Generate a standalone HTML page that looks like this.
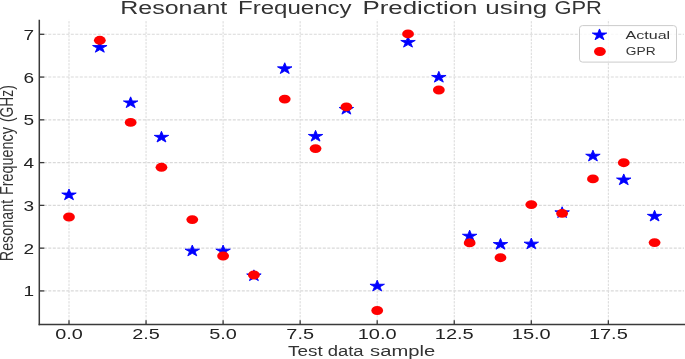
<!DOCTYPE html>
<html><head><meta charset="utf-8"><title>Resonant Frequency Prediction using GPR</title>
<style>
html,body{margin:0;padding:0;background:#fff;}
svg{display:block;will-change:transform;}
text{font-family:"Liberation Sans",sans-serif;fill:#333;}
.gv{stroke:#d9d9d9;stroke-width:1;stroke-dasharray:2.3 1.2;}
.gh{stroke:#d9d9d9;stroke-width:1.1;stroke-dasharray:3.0 1.5;}
.sp{stroke:#3a3a3a;stroke-width:1.5;}
.tk{stroke:#3a3a3a;stroke-width:1.3;}
.xtl{font-size:14px;fill:#222;}
.ytl{font-size:14px;fill:#222;}
.xl{font-size:14px;}
.yl{font-size:14px;}
.ti{font-size:18px;}
.lg{font-size:11.8px;}
</style></head>
<body>
<svg width="685" height="359" viewBox="0 0 685 359">
<rect width="685" height="359" fill="#fff"/>
<line x1="69.00" y1="324.45" x2="69.00" y2="19.80" class="gv"/>
<line x1="146.05" y1="324.45" x2="146.05" y2="19.80" class="gv"/>
<line x1="223.10" y1="324.45" x2="223.10" y2="19.80" class="gv"/>
<line x1="300.15" y1="324.45" x2="300.15" y2="19.80" class="gv"/>
<line x1="377.20" y1="324.45" x2="377.20" y2="19.80" class="gv"/>
<line x1="454.25" y1="324.45" x2="454.25" y2="19.80" class="gv"/>
<line x1="531.30" y1="324.45" x2="531.30" y2="19.80" class="gv"/>
<line x1="608.35" y1="324.45" x2="608.35" y2="19.80" class="gv"/>
<line x1="39.30" y1="290.92" x2="684.00" y2="290.92" class="gh"/>
<line x1="39.30" y1="248.15" x2="684.00" y2="248.15" class="gh"/>
<line x1="39.30" y1="205.38" x2="684.00" y2="205.38" class="gh"/>
<line x1="39.30" y1="162.61" x2="684.00" y2="162.61" class="gh"/>
<line x1="39.30" y1="119.84" x2="684.00" y2="119.84" class="gh"/>
<line x1="39.30" y1="77.07" x2="684.00" y2="77.07" class="gh"/>
<line x1="39.30" y1="34.30" x2="684.00" y2="34.30" class="gh"/>
<path d="M69.00,188.95 L70.71,193.06 L76.23,193.06 L71.76,195.60 L73.47,199.71 L69.00,197.17 L64.53,199.71 L66.24,195.60 L61.77,193.06 L67.29,193.06 Z" fill="#0000ff" stroke="#0000ff" stroke-width="0.9" stroke-linejoin="bevel"/>
<path d="M99.82,41.45 L101.53,45.56 L107.05,45.56 L102.58,48.10 L104.29,52.21 L99.82,49.67 L95.35,52.21 L97.06,48.10 L92.59,45.56 L98.11,45.56 Z" fill="#0000ff" stroke="#0000ff" stroke-width="0.9" stroke-linejoin="bevel"/>
<path d="M130.64,96.85 L132.35,100.96 L137.87,100.96 L133.40,103.50 L135.11,107.61 L130.64,105.07 L126.17,107.61 L127.88,103.50 L123.41,100.96 L128.93,100.96 Z" fill="#0000ff" stroke="#0000ff" stroke-width="0.9" stroke-linejoin="bevel"/>
<path d="M161.46,131.25 L163.17,135.36 L168.69,135.36 L164.22,137.90 L165.93,142.01 L161.46,139.47 L156.99,142.01 L158.70,137.90 L154.23,135.36 L159.75,135.36 Z" fill="#0000ff" stroke="#0000ff" stroke-width="0.9" stroke-linejoin="bevel"/>
<path d="M192.28,245.05 L193.99,249.16 L199.51,249.16 L195.04,251.70 L196.75,255.81 L192.28,253.27 L187.81,255.81 L189.52,251.70 L185.05,249.16 L190.57,249.16 Z" fill="#0000ff" stroke="#0000ff" stroke-width="0.9" stroke-linejoin="bevel"/>
<path d="M223.10,245.05 L224.81,249.16 L230.33,249.16 L225.86,251.70 L227.57,255.81 L223.10,253.27 L218.63,255.81 L220.34,251.70 L215.87,249.16 L221.39,249.16 Z" fill="#0000ff" stroke="#0000ff" stroke-width="0.9" stroke-linejoin="bevel"/>
<path d="M253.92,269.85 L255.63,273.96 L261.15,273.96 L256.68,276.50 L258.39,280.61 L253.92,278.07 L249.45,280.61 L251.16,276.50 L246.69,273.96 L252.21,273.96 Z" fill="#0000ff" stroke="#0000ff" stroke-width="0.9" stroke-linejoin="bevel"/>
<path d="M284.74,62.75 L286.45,66.86 L291.97,66.86 L287.50,69.40 L289.21,73.51 L284.74,70.97 L280.27,73.51 L281.98,69.40 L277.51,66.86 L283.03,66.86 Z" fill="#0000ff" stroke="#0000ff" stroke-width="0.9" stroke-linejoin="bevel"/>
<path d="M315.56,130.35 L317.27,134.46 L322.79,134.46 L318.32,137.00 L320.03,141.11 L315.56,138.57 L311.09,141.11 L312.80,137.00 L308.33,134.46 L313.85,134.46 Z" fill="#0000ff" stroke="#0000ff" stroke-width="0.9" stroke-linejoin="bevel"/>
<path d="M346.38,103.35 L348.09,107.46 L353.61,107.46 L349.14,110.00 L350.85,114.11 L346.38,111.57 L341.91,114.11 L343.62,110.00 L339.15,107.46 L344.67,107.46 Z" fill="#0000ff" stroke="#0000ff" stroke-width="0.9" stroke-linejoin="bevel"/>
<path d="M377.20,280.15 L378.91,284.26 L384.43,284.26 L379.96,286.80 L381.67,290.91 L377.20,288.37 L372.73,290.91 L374.44,286.80 L369.97,284.26 L375.49,284.26 Z" fill="#0000ff" stroke="#0000ff" stroke-width="0.9" stroke-linejoin="bevel"/>
<path d="M408.02,36.35 L409.73,40.46 L415.25,40.46 L410.78,43.00 L412.49,47.11 L408.02,44.57 L403.55,47.11 L405.26,43.00 L400.79,40.46 L406.31,40.46 Z" fill="#0000ff" stroke="#0000ff" stroke-width="0.9" stroke-linejoin="bevel"/>
<path d="M438.84,71.35 L440.55,75.46 L446.07,75.46 L441.60,78.00 L443.31,82.11 L438.84,79.57 L434.37,82.11 L436.08,78.00 L431.61,75.46 L437.13,75.46 Z" fill="#0000ff" stroke="#0000ff" stroke-width="0.9" stroke-linejoin="bevel"/>
<path d="M469.66,230.15 L471.37,234.26 L476.89,234.26 L472.42,236.80 L474.13,240.91 L469.66,238.37 L465.19,240.91 L466.90,236.80 L462.43,234.26 L467.95,234.26 Z" fill="#0000ff" stroke="#0000ff" stroke-width="0.9" stroke-linejoin="bevel"/>
<path d="M500.48,238.45 L502.19,242.56 L507.71,242.56 L503.24,245.10 L504.95,249.21 L500.48,246.67 L496.01,249.21 L497.72,245.10 L493.25,242.56 L498.77,242.56 Z" fill="#0000ff" stroke="#0000ff" stroke-width="0.9" stroke-linejoin="bevel"/>
<path d="M531.30,238.05 L533.01,242.16 L538.53,242.16 L534.06,244.70 L535.77,248.81 L531.30,246.27 L526.83,248.81 L528.54,244.70 L524.07,242.16 L529.59,242.16 Z" fill="#0000ff" stroke="#0000ff" stroke-width="0.9" stroke-linejoin="bevel"/>
<path d="M562.12,206.75 L563.83,210.86 L569.35,210.86 L564.88,213.40 L566.59,217.51 L562.12,214.97 L557.65,217.51 L559.36,213.40 L554.89,210.86 L560.41,210.86 Z" fill="#0000ff" stroke="#0000ff" stroke-width="0.9" stroke-linejoin="bevel"/>
<path d="M592.94,150.15 L594.65,154.26 L600.17,154.26 L595.70,156.80 L597.41,160.91 L592.94,158.37 L588.47,160.91 L590.18,156.80 L585.71,154.26 L591.23,154.26 Z" fill="#0000ff" stroke="#0000ff" stroke-width="0.9" stroke-linejoin="bevel"/>
<path d="M623.76,173.95 L625.47,178.06 L630.99,178.06 L626.52,180.60 L628.23,184.71 L623.76,182.17 L619.29,184.71 L621.00,180.60 L616.53,178.06 L622.05,178.06 Z" fill="#0000ff" stroke="#0000ff" stroke-width="0.9" stroke-linejoin="bevel"/>
<path d="M654.58,210.25 L656.29,214.36 L661.81,214.36 L657.34,216.90 L659.05,221.01 L654.58,218.47 L650.11,221.01 L651.82,216.90 L647.35,214.36 L652.87,214.36 Z" fill="#0000ff" stroke="#0000ff" stroke-width="0.9" stroke-linejoin="bevel"/>
<ellipse cx="69.00" cy="217.00" rx="5.9" ry="4.45" fill="#ff0000"/>
<ellipse cx="99.82" cy="40.30" rx="5.9" ry="4.45" fill="#ff0000"/>
<ellipse cx="130.64" cy="122.40" rx="5.9" ry="4.45" fill="#ff0000"/>
<ellipse cx="161.46" cy="167.30" rx="5.9" ry="4.45" fill="#ff0000"/>
<ellipse cx="192.28" cy="219.60" rx="5.9" ry="4.45" fill="#ff0000"/>
<ellipse cx="223.10" cy="256.00" rx="5.9" ry="4.45" fill="#ff0000"/>
<ellipse cx="253.92" cy="275.00" rx="5.9" ry="4.45" fill="#ff0000"/>
<ellipse cx="284.74" cy="99.10" rx="5.9" ry="4.45" fill="#ff0000"/>
<ellipse cx="315.56" cy="148.60" rx="5.9" ry="4.45" fill="#ff0000"/>
<ellipse cx="346.38" cy="106.90" rx="5.9" ry="4.45" fill="#ff0000"/>
<ellipse cx="377.20" cy="310.50" rx="5.9" ry="4.45" fill="#ff0000"/>
<ellipse cx="408.02" cy="33.90" rx="5.9" ry="4.45" fill="#ff0000"/>
<ellipse cx="438.84" cy="90.00" rx="5.9" ry="4.45" fill="#ff0000"/>
<ellipse cx="469.66" cy="242.90" rx="5.9" ry="4.45" fill="#ff0000"/>
<ellipse cx="500.48" cy="257.70" rx="5.9" ry="4.45" fill="#ff0000"/>
<ellipse cx="531.30" cy="204.60" rx="5.9" ry="4.45" fill="#ff0000"/>
<ellipse cx="562.12" cy="213.40" rx="5.9" ry="4.45" fill="#ff0000"/>
<ellipse cx="592.94" cy="178.90" rx="5.9" ry="4.45" fill="#ff0000"/>
<ellipse cx="623.76" cy="162.70" rx="5.9" ry="4.45" fill="#ff0000"/>
<ellipse cx="654.58" cy="242.60" rx="5.9" ry="4.45" fill="#ff0000"/>
<line x1="39.30" y1="19.80" x2="39.30" y2="325.15" class="sp"/>
<line x1="38.60" y1="324.45" x2="685" y2="324.45" class="sp"/>
<line x1="69.00" y1="324.45" x2="69.00" y2="320.15" class="tk"/>
<line x1="146.05" y1="324.45" x2="146.05" y2="320.15" class="tk"/>
<line x1="223.10" y1="324.45" x2="223.10" y2="320.15" class="tk"/>
<line x1="300.15" y1="324.45" x2="300.15" y2="320.15" class="tk"/>
<line x1="377.20" y1="324.45" x2="377.20" y2="320.15" class="tk"/>
<line x1="454.25" y1="324.45" x2="454.25" y2="320.15" class="tk"/>
<line x1="531.30" y1="324.45" x2="531.30" y2="320.15" class="tk"/>
<line x1="608.35" y1="324.45" x2="608.35" y2="320.15" class="tk"/>
<line x1="39.30" y1="290.92" x2="44.30" y2="290.92" class="tk"/>
<line x1="39.30" y1="248.15" x2="44.30" y2="248.15" class="tk"/>
<line x1="39.30" y1="205.38" x2="44.30" y2="205.38" class="tk"/>
<line x1="39.30" y1="162.61" x2="44.30" y2="162.61" class="tk"/>
<line x1="39.30" y1="119.84" x2="44.30" y2="119.84" class="tk"/>
<line x1="39.30" y1="77.07" x2="44.30" y2="77.07" class="tk"/>
<line x1="39.30" y1="34.30" x2="44.30" y2="34.30" class="tk"/>
<text x="69.00" y="338.6" class="xtl" text-anchor="middle" textLength="27.6" lengthAdjust="spacingAndGlyphs">0.0</text>
<text x="146.05" y="338.6" class="xtl" text-anchor="middle" textLength="27.6" lengthAdjust="spacingAndGlyphs">2.5</text>
<text x="223.10" y="338.6" class="xtl" text-anchor="middle" textLength="27.6" lengthAdjust="spacingAndGlyphs">5.0</text>
<text x="300.15" y="338.6" class="xtl" text-anchor="middle" textLength="27.6" lengthAdjust="spacingAndGlyphs">7.5</text>
<text x="377.20" y="338.6" class="xtl" text-anchor="middle" textLength="38.9" lengthAdjust="spacingAndGlyphs">10.0</text>
<text x="454.25" y="338.6" class="xtl" text-anchor="middle" textLength="38.9" lengthAdjust="spacingAndGlyphs">12.5</text>
<text x="531.30" y="338.6" class="xtl" text-anchor="middle" textLength="38.9" lengthAdjust="spacingAndGlyphs">15.0</text>
<text x="608.35" y="338.6" class="xtl" text-anchor="middle" textLength="38.9" lengthAdjust="spacingAndGlyphs">17.5</text>
<text x="34.2" y="296.42" class="ytl" text-anchor="end" textLength="10.6" lengthAdjust="spacingAndGlyphs">1</text>
<text x="34.2" y="253.65" class="ytl" text-anchor="end" textLength="10.6" lengthAdjust="spacingAndGlyphs">2</text>
<text x="34.2" y="210.88" class="ytl" text-anchor="end" textLength="10.6" lengthAdjust="spacingAndGlyphs">3</text>
<text x="34.2" y="168.11" class="ytl" text-anchor="end" textLength="10.6" lengthAdjust="spacingAndGlyphs">4</text>
<text x="34.2" y="125.34" class="ytl" text-anchor="end" textLength="10.6" lengthAdjust="spacingAndGlyphs">5</text>
<text x="34.2" y="82.57" class="ytl" text-anchor="end" textLength="10.6" lengthAdjust="spacingAndGlyphs">6</text>
<text x="34.2" y="39.80" class="ytl" text-anchor="end" textLength="10.6" lengthAdjust="spacingAndGlyphs">7</text>
<text x="120.29" y="13.7" class="ti" textLength="106.97" lengthAdjust="spacingAndGlyphs">Resonant</text>
<text x="238.06" y="13.7" class="ti" textLength="113.61" lengthAdjust="spacingAndGlyphs">Frequency</text>
<text x="362.52" y="13.7" class="ti" textLength="114.97" lengthAdjust="spacingAndGlyphs">Prediction</text>
<text x="485.26" y="13.7" class="ti" textLength="62.03" lengthAdjust="spacingAndGlyphs">using</text>
<text x="554.55" y="13.7" class="ti" textLength="47.36" lengthAdjust="spacingAndGlyphs">GPR</text>
<text x="288.10" y="355.8" class="xl" textLength="34.65" lengthAdjust="spacingAndGlyphs">Test</text>
<text x="327.68" y="355.8" class="xl" textLength="35.93" lengthAdjust="spacingAndGlyphs">data</text>
<text x="370.14" y="355.8" class="xl" textLength="65.07" lengthAdjust="spacingAndGlyphs">sample</text>
<text x="-261.21" y="0" class="yl" textLength="61.36" lengthAdjust="spacingAndGlyphs" transform="translate(13.4,0) scale(1.3,1) rotate(-90)">Resonant</text>
<text x="-194.93" y="0" class="yl" textLength="67.83" lengthAdjust="spacingAndGlyphs" transform="translate(13.4,0) scale(1.3,1) rotate(-90)">Frequency</text>
<text x="-122.06" y="0" class="yl" textLength="36.90" lengthAdjust="spacingAndGlyphs" transform="translate(13.4,0) scale(1.3,1) rotate(-90)">(GHz)</text>
<rect x="579.5" y="25.6" width="97" height="36.5" rx="3" ry="3" fill="#fff" fill-opacity="0.8" stroke="#cccccc" stroke-width="1"/>
<path d="M599.50,28.95 L601.21,33.06 L606.73,33.06 L602.26,35.60 L603.97,39.71 L599.50,37.17 L595.03,39.71 L596.74,35.60 L592.27,33.06 L597.79,33.06 Z" fill="#0000ff" stroke="#0000ff" stroke-width="0.9" stroke-linejoin="bevel"/>
<ellipse cx="599.9" cy="51.5" rx="5.9" ry="4.45" fill="#ff0000"/>
<text x="625.63" y="38.8" class="lg" textLength="44.57" lengthAdjust="spacingAndGlyphs">Actual</text>
<text x="625.79" y="55.4" class="lg" textLength="29.82" lengthAdjust="spacingAndGlyphs">GPR</text>
</svg>
</body></html>
